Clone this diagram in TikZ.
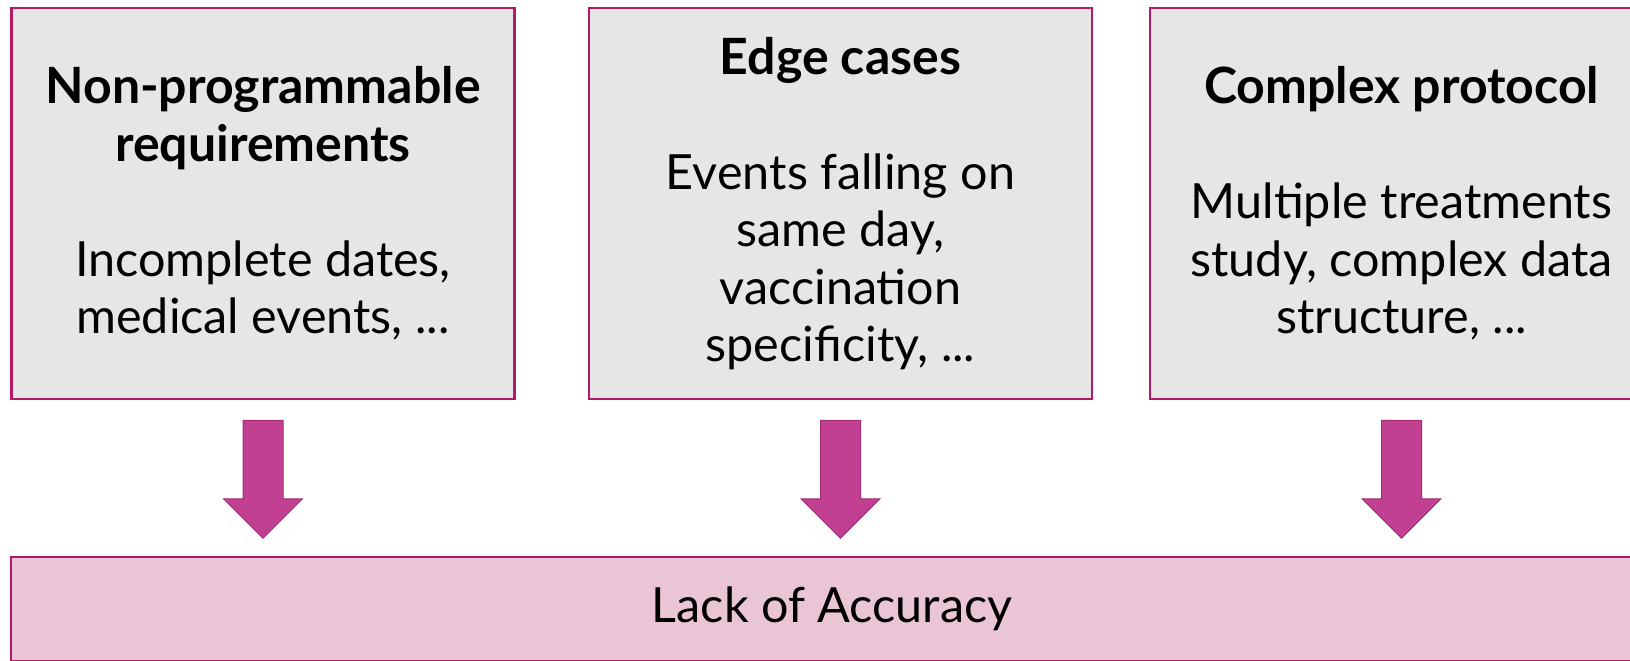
\documentclass[tikz,border=0pt]{standalone}
\usepackage{fontspec}
\setmainfont{Lato}
\usetikzlibrary{calc}
\definecolor{boxfill}{RGB}{231,230,230}
\definecolor{boxline}{RGB}{181,25,100}
\definecolor{arrowfill}{RGB}{194,64,145}
\definecolor{arrowline}{RGB}{160,45,115}
\definecolor{resfill}{RGB}{234,197,214}
\newcommand{\hd}[1]{{\fontsize{50}{57.5}\selectfont\bfseries #1}}
\tikzset{
  causebox/.style={draw=boxline, fill=boxfill, line width=2.5pt, minimum width=503pt, minimum height=391pt, inner sep=0pt, align=center, font=\fontsize{48.5}{57.5}\selectfont},
  resultbox/.style={draw=boxline, fill=resfill, line width=2.5pt, minimum width=1642pt, minimum height=104pt, inner sep=0pt, font=\fontsize{48.5}{57.5}\selectfont},
  bigarrow/.style={draw=arrowline, fill=arrowfill, line width=1pt},
}
\begin{document}
\begin{tikzpicture}[x=1pt,y=-1pt]
\useasboundingbox (0,0) rectangle (1630,661);
\begin{scope}
\clip (0,0) rectangle (1630,661);
\node[causebox] (b1) at (263,203.5) {\hd{Non-programmable}\\\hd{requirements}\\[57.5pt]Incomplete dates,\\medical events, ...};
\node[causebox] (b2) at (840.5,203.5) {\hd{Edge cases}\\[57.5pt]Events falling on\\same day,\\vaccination\\specificity, ...};
\node[causebox] (b3) at (1401.5,203.5) {\hd{Complex protocol}\\[57.5pt]Multiple treatments\\study, complex data\\structure, ...};
\node[resultbox] (r) at (832,609) {Lack of Accuracy};
\foreach \b in {b1,b2,b3}{
  \path (\b.south) ++(0,20) coordinate (t);
  \path (\b.south |- r.north) ++(0,-17.5) coordinate (tip);
  \draw[bigarrow] ($(t)+(-20,0)$) -- ($(t)+(20,0)$) -- ($(tip)+(20,-39.5)$) -- ($(tip)+(39.5,-39.5)$) -- (tip) -- ($(tip)+(-39.5,-39.5)$) -- ($(tip)+(-20,-39.5)$) -- cycle;
}
\end{scope}
\end{tikzpicture}
\end{document}
